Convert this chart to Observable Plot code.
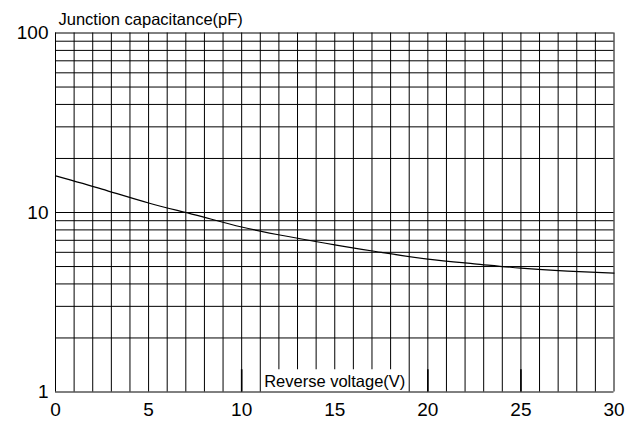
<!DOCTYPE html>
<html>
<head>
<meta charset="utf-8">
<script src="https://cdn.jsdelivr.net/npm/d3@7"></script>
<script src="https://cdn.jsdelivr.net/npm/@observablehq/plot@0.6"></script>
<style>
  html, body { margin: 0; padding: 0; background: #fff; }
  #chart svg { display: block; }
</style>
</head>
<body>
<div id="chart"></div>
<script>
// Data
const voltage     = [0, 2.5, 5, 7.5, 10, 12.5, 15, 17.5, 20, 22.5, 25, 27.5, 30];
const capacitance = [16, 13.5, 11.3, 9.7, 8.3, 7.35, 6.6, 6.0, 5.5, 5.18, 4.9, 4.72, 4.6];

const xTicks = [0, 5, 10, 15, 20, 25, 30];
const yTicks = [1, 10, 100];
const xGrid  = d3.range(0, 31);                       // 1 V grid
const yGrid  = [1,2,3,4,5,6,7,8,9,10,20,30,40,50,60,70,80,90,100];
const labelGap = [12, 13, 14, 15, 16, 17, 18];       // grid lines interrupted by the x label
const boldTicks = [10, 20, 25];                       // short dark ticks at the bottom

const yTitle = "Junction capacitance(pF)";
const xTitle = "Reverse voltage(V)";

const curve = voltage.map((v, i) => ({v, c: capacitance[i]}));
const gapTop = 1.33;
const vGrid = xGrid.map(x => ({x, y1: labelGap.includes(x) ? gapTop : 1, y2: 100}));
const ticks = boldTicks.map(x => ({x, y1: 1, y2: gapTop}));

const chart = Plot.plot({
  width: 638,
  height: 421,
  marginLeft: 55,
  marginRight: 24.5,
  marginTop: 32.5,
  marginBottom: 29.5,
  style: {fontFamily: "Liberation Sans, Arial, sans-serif", background: "#fff", color: "#000"},
  x: {domain: [0, 30]},
  y: {type: "log", domain: [1, 100]},
  marks: [
    Plot.ruleY(yGrid, {stroke: "#000", strokeWidth: 1}),
    Plot.ruleX(vGrid, {x: "x", y1: "y1", y2: "y2", stroke: "#000", strokeWidth: 1}),
    Plot.ruleX(ticks, {x: "x", y1: "y1", y2: "y2", stroke: "#000", strokeWidth: 1.6}),
    Plot.line(curve, {x: "v", y: "c", curve: "natural", stroke: "#000", strokeWidth: 1.2}),
    Plot.axisX({ticks: xTicks, tickSize: 0, tickPadding: 10, fontSize: 19, label: null, tickFormat: d => String(d)}),
    Plot.axisY({ticks: yTicks, tickSize: 0, tickPadding: 7, fontSize: 19, label: null, tickFormat: d => String(d)}),
    Plot.text([yTitle], {frameAnchor: "top-left", text: d => d, textAnchor: "start", lineAnchor: "bottom", dx: 3, dy: -8.5, fontSize: 16.5, fill: "#000"}),
    Plot.text([xTitle], {x: () => 15, y: () => 1, text: d => d, textAnchor: "middle", lineAnchor: "bottom", dy: -5.5, fontSize: 16.5, fill: "#000"})
  ]
});
document.getElementById("chart").appendChild(chart);
</script>
</body>
</html>
